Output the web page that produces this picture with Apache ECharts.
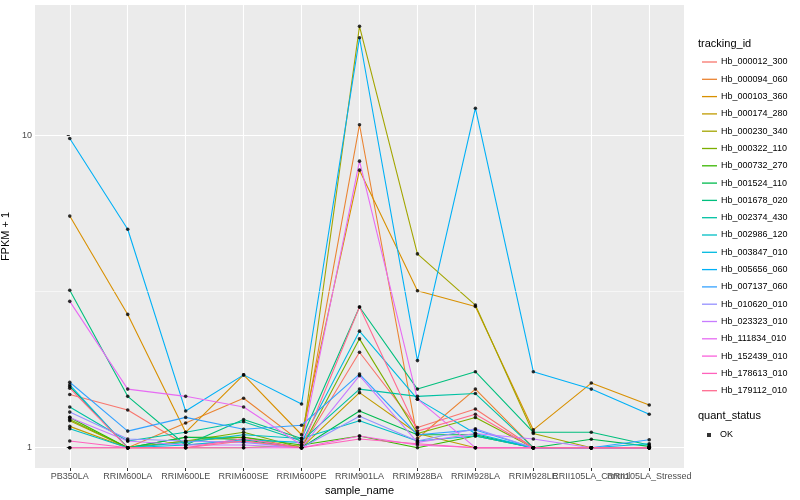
<!DOCTYPE html>
<html>
<head>
<meta charset="utf-8">
<script src="https://cdn.jsdelivr.net/npm/echarts@6/dist/echarts.min.js"></script>
<style>html,body{margin:0;padding:0;background:#fff;}#c{width:800px;height:500px;}</style>
</head>
<body>
<div id="c"></div>
<script>
const categories = ['PB350LA','RRIM600LA','RRIM600LE','RRIM600SE','RRIM600PE','RRIM901LA','RRIM928BA','RRIM928LA','RRIM928LE','RRII105LA_Control','RRII105LA_Stressed'];
const trackingIds = ['Hb_000012_300','Hb_000094_060','Hb_000103_360','Hb_000174_280','Hb_000230_340','Hb_000322_110','Hb_000732_270','Hb_001524_110','Hb_001678_020','Hb_002374_430','Hb_002986_120','Hb_003847_010','Hb_005656_060','Hb_007137_060','Hb_010620_010','Hb_023323_010','Hb_111834_010','Hb_152439_010','Hb_178613_010','Hb_179112_010'];
const yTickValues = [1, 10];

const Hb_000012_300 = [1.48, 1.32, 1.02, 1.05, 1.0, 2.02, 1.16, 1.33, 1.0, 1.0, 1.0];
const Hb_000094_060 = [1.0, 1.0, 1.2, 1.44, 1.04, 10.8, 1.07, 1.54, 1.0, 1.0, 1.0];
const Hb_000103_360 = [5.51, 2.67, 1.12, 1.71, 1.10, 7.73, 3.18, 2.83, 1.14, 1.61, 1.37];
const Hb_000174_280 = [1.17, 1.0, 1.05, 1.08, 1.0, 1.50, 1.11, 1.0, 1.0, 1.0, 1.0];
const Hb_000230_340 = [1.22, 1.0, 1.0, 1.0, 1.02, 22.3, 4.17, 2.86, 1.11, 1.0, 1.0];
const Hb_000322_110 = [1.23, 1.0, 1.05, 1.12, 1.0, 2.23, 1.11, 1.25, 1.0, 1.0, 1.0];
const Hb_000732_270 = [1.25, 1.0, 1.08, 1.08, 1.02, 1.09, 1.0, 1.09, 1.0, 1.0, 1.0];
const Hb_001524_110 = [1.57, 1.0, 1.08, 1.06, 1.0, 1.31, 1.1, 1.1, 1.0, 1.064, 1.01];
const Hb_001678_020 = [3.19, 1.46, 1.02, 1.23, 1.07, 2.82, 1.54, 1.75, 1.12, 1.12, 1.02];
const Hb_002374_430 = [1.35, 1.05, 1.12, 1.21, 1.05, 1.54, 1.46, 1.49, 1.0, 1.0, 1.0];
const Hb_002986_120 = [1.15, 1.0, 1.04, 1.10, 1.07, 1.22, 1.05, 1.09, 1.0, 1.0, 1.0];
const Hb_003847_010 = [1.59, 1.0, 1.02, 1.06, 1.04, 2.36, 1.43, 1.11, 1.0, 1.0, 1.03];
const Hb_005656_060 = [9.76, 5.0, 1.31, 1.71, 1.38, 20.5, 1.90, 12.2, 1.75, 1.54, 1.28];
const Hb_007137_060 = [1.62, 1.13, 1.25, 1.145, 1.18, 1.72, 1.10, 1.14, 1.0, 1.0, 1.06];
const Hb_010620_010 = [1.30, 1.066, 1.05, 1.04, 1.0, 1.26, 1.05, 1.15, 1.0, 1.0, 1.0];
const Hb_023323_010 = [1.25, 1.05, 1.02, 1.02, 1.0, 1.70, 1.04, 1.11, 1.066, 1.0, 1.0];
const Hb_111834_010 = [2.94, 1.54, 1.46, 1.35, 1.02, 8.26, 1.43, 1.0, 1.0, 1.0, 1.0];
const Hb_152439_010 = [1.0, 1.0, 1.0, 1.0, 1.0, 1.09, 1.02, 1.0, 1.0, 1.0, 1.0];
const Hb_178613_010 = [1.05, 1.0, 1.0, 1.07, 1.0, 1.066, 1.03, 1.0, 1.0, 1.0, 1.0];
const Hb_179112_010 = [1.55, 1.0, 1.0, 1.05, 1.0, 2.82, 1.13, 1.28, 1.0, 1.0, 1.0];

const seriesValues = [Hb_000012_300, Hb_000094_060, Hb_000103_360, Hb_000174_280, Hb_000230_340, Hb_000322_110, Hb_000732_270, Hb_001524_110, Hb_001678_020, Hb_002374_430, Hb_002986_120, Hb_003847_010, Hb_005656_060, Hb_007137_060, Hb_010620_010, Hb_023323_010, Hb_111834_010, Hb_152439_010, Hb_178613_010, Hb_179112_010];

const palette = ['#F8766D','#EA8331','#D89000','#C09B00','#A3A500','#7CAE00','#39B600','#00BB4E','#00BF7D','#00C1A3','#00BFC4','#00BAE0','#00B0F6','#35A2FF','#9590FF','#C77CFF','#E76BF3','#FA62DB','#FF62BC','#FF6C91'];

const FONT = 'Liberation Sans, Arial, sans-serif';
const catIdx = categories.map((c, i) => i);
const evenIdx = catIdx.filter(i => i % 2 === 0);
const oddIdx = catIdx.filter(i => i % 2 === 1);

const lineSeries = trackingIds.map((name, k) => ({
  name: name,
  type: 'line',
  data: seriesValues[k].map((v, i) => [i, v]),
  showSymbol: false,
  symbol: 'none',
  silent: true,
  z: 3,
  lineStyle: { color: palette[k], width: 1.1 },
  itemStyle: { color: palette[k] }
}));

const pointData = [];
seriesValues.forEach(arr => arr.forEach((v, i) => pointData.push([i, v])));

const xLabelStyle = { formatter: v => categories[Math.round(v)], fontSize: 9, color: '#4D4D4D', margin: 4, fontFamily: FONT, hideOverlap: false, showMinLabel: true, showMaxLabel: true };
const xTickStyle = { show: true, length: 3, lineStyle: { color: '#333333', width: 1 } };

const option = {
  animation: false,
  backgroundColor: '#FFFFFF',
  textStyle: { fontFamily: FONT },
  title: [
    { text: 'tracking_id', left: 693, top: 33, textStyle: { fontSize: 11, fontWeight: 'normal', color: '#000', fontFamily: FONT } },
    { text: 'quant_status', left: 693, top: 405, textStyle: { fontSize: 11, fontWeight: 'normal', color: '#000', fontFamily: FONT } }
  ],
  grid: { left: 35, right: 116, top: 5, bottom: 32, containLabel: false, outerBoundsMode: 'none', show: true, backgroundColor: '#EBEBEB', borderWidth: 0 },
  legend: [
    {
      data: trackingIds,
      orient: 'vertical',
      left: 697, top: 50,
      icon: 'rect',
      itemWidth: 15, itemHeight: 1.3,
      itemGap: 3.3,
      selectedMode: false,
      textStyle: { fontSize: 9, color: '#000', fontFamily: FONT, lineHeight: 14, padding: [0, 0, 0, -1] }
    },
    {
      data: ['OK'],
      orient: 'vertical',
      left: 702, top: 423,
      icon: 'rect',
      itemWidth: 4, itemHeight: 4,
      selectedMode: false,
      textStyle: { fontSize: 9, color: '#000', fontFamily: FONT, lineHeight: 14, padding: [0, 0, 0, 4] }
    }
  ],
  xAxis: [
    {
      type: 'value',
      min: -0.6, max: 10.6,
      name: 'sample_name',
      nameLocation: 'middle',
      nameGap: 12,
      nameTextStyle: { fontSize: 11, color: '#000', fontFamily: FONT },
      axisLine: { show: false },
      axisTick: Object.assign({ customValues: catIdx }, xTickStyle),
      axisLabel: Object.assign({ customValues: evenIdx }, xLabelStyle),
      splitLine: { show: true, lineStyle: { color: '#FFFFFF', width: 1.1 } },
      minorSplitLine: { show: false }
    },
    {
      type: 'value',
      position: 'bottom',
      offset: 0,
      min: -0.6, max: 10.6,
      axisLine: { show: false },
      axisTick: { show: false },
      axisLabel: Object.assign({ customValues: oddIdx }, xLabelStyle),
      splitLine: { show: false }
    }
  ],
  yAxis: {
    type: 'log',
    logBase: 10,
    min: 0.861, max: 26.1,
    name: 'FPKM + 1',
    nameLocation: 'middle',
    nameGap: 19,
    nameRotate: 90,
    nameTextStyle: { fontSize: 11, color: '#000', fontFamily: FONT },
    axisLine: { show: false },
    axisTick: { show: true, length: 3, lineStyle: { color: '#333333', width: 1 }, customValues: yTickValues },
    axisLabel: { customValues: yTickValues, fontSize: 9, color: '#4D4D4D', margin: 3, fontFamily: FONT, formatter: v => String(Math.round(v)) },
    splitLine: { show: true, lineStyle: { color: '#FFFFFF', width: 1.1 } }
  },
  series: [
    {
      name: 'minor-grid',
      type: 'line',
      data: [],
      silent: true,
      z: 1,
      markLine: {
        silent: true,
        symbol: 'none',
        label: { show: false },
        lineStyle: { color: '#FFFFFF', width: 0.55, type: 'solid' },
        data: [{ yAxis: Math.sqrt(10) }]
      }
    },
    ...lineSeries,
    {
      name: 'OK',
      type: 'scatter',
      data: pointData,
      symbol: 'circle',
      symbolSize: 3.6,
      silent: true,
      z: 5,
      itemStyle: { color: '#000000' }
    }
  ]
};

const chart = echarts.init(document.getElementById('c'), null, { renderer: 'canvas' });
chart.setOption(option);
</script>
</body>
</html>
